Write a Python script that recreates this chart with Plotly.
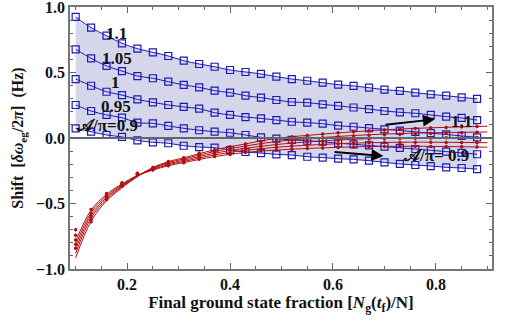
import plotly.graph_objects as go

# ---------------- data ----------------
x_pts = [0.10, 0.13, 0.16, 0.19, 0.22, 0.25, 0.28, 0.31, 0.34, 0.37, 0.40, 0.43, 0.46, 0.49,
         0.52, 0.55, 0.58, 0.61, 0.64, 0.67, 0.70, 0.73, 0.76, 0.79, 0.82, 0.85, 0.88]

amp_labels = ["0.9", "0.95", "1", "1.05", "1.1"]

blue_090 = [0.074, 0.048, 0.023, 0.008, -0.018, -0.033, -0.040, -0.059, -0.069,
            -0.074, -0.092, -0.107, -0.115, -0.125, -0.130, -0.143, -0.150, -0.158,
            -0.163, -0.173, -0.186, -0.198, -0.206, -0.214, -0.224, -0.229, -0.237]
blue_095 = [0.252, 0.206, 0.176, 0.155, 0.117, 0.112, 0.092, 0.074, 0.059,
            0.048, 0.040, 0.023, 0.005, -0.005, -0.015, -0.021, -0.028, -0.040,
            -0.048, -0.057, -0.066, -0.075, -0.084, -0.094, -0.104, -0.114, -0.124]
blue_100 = [0.450, 0.399, 0.353, 0.328, 0.295, 0.272, 0.252, 0.237, 0.224,
            0.193, 0.176, 0.160, 0.150, 0.137, 0.124, 0.117, 0.109, 0.094,
            0.086, 0.076, 0.066, 0.057, 0.047, 0.037, 0.027, 0.016, 0.005]
blue_105 = [0.677, 0.608, 0.550, 0.511, 0.473, 0.456, 0.430, 0.405, 0.387,
            0.361, 0.346, 0.323, 0.308, 0.290, 0.275, 0.270, 0.257, 0.245,
            0.233, 0.221, 0.206, 0.196, 0.189, 0.176, 0.163, 0.153, 0.137]
blue_110 = [0.924, 0.842, 0.781, 0.723, 0.682, 0.654, 0.626, 0.590, 0.565,
            0.544, 0.519, 0.504, 0.489, 0.468, 0.450, 0.437, 0.422, 0.407,
            0.398, 0.384, 0.369, 0.360, 0.346, 0.333, 0.323, 0.310, 0.299]

red_dots_090 = [-0.700, -0.546, -0.424, -0.342, -0.280, -0.245, -0.212, -0.188, -0.162,
                -0.142, -0.125, -0.110, -0.100, -0.092, -0.086, -0.080, -0.076, -0.072,
                -0.068, -0.066, -0.064, -0.063, -0.063, -0.064, -0.065, -0.067, -0.069]
red_dots_095 = [-0.743, -0.576, -0.436, -0.349, -0.278, -0.238, -0.204, -0.179, -0.152,
                -0.129, -0.110, -0.094, -0.081, -0.071, -0.062, -0.055, -0.050, -0.045,
                -0.040, -0.037, -0.035, -0.034, -0.033, -0.033, -0.034, -0.035, -0.036]
red_dots_100 = [-0.779, -0.600, -0.447, -0.355, -0.275, -0.233, -0.196, -0.170, -0.140,
                -0.116, -0.095, -0.078, -0.062, -0.050, -0.039, -0.030, -0.024, -0.018,
                -0.012, -0.008, -0.005, -0.003, -0.001, 0.000, 0.001, 0.002, 0.003]
red_dots_105 = [-0.811, -0.620, -0.458, -0.361, -0.272, -0.229, -0.188, -0.160, -0.128,
                -0.103, -0.080, -0.061, -0.043, -0.027, -0.015, -0.005, 0.002, 0.009,
                0.016, 0.021, 0.025, 0.029, 0.032, 0.035, 0.038, 0.041, 0.043]
red_dots_110 = [-0.842, -0.640, -0.470, -0.368, -0.270, -0.225, -0.180, -0.151, -0.116,
                -0.090, -0.066, -0.045, -0.025, -0.008, 0.007, 0.020, 0.031, 0.040,
                0.048, 0.055, 0.061, 0.067, 0.072, 0.077, 0.081, 0.085, 0.088]

line_x = [0.10, 0.13, 0.16, 0.19, 0.22, 0.25, 0.28, 0.31, 0.37, 0.43, 0.49, 0.55, 0.65, 0.75, 0.90]
red_line_090 = [-0.790, -0.550, -0.430, -0.350, -0.285, -0.245, -0.212, -0.188, -0.142, -0.110, -0.092, -0.080, -0.067, -0.063, -0.070]
red_line_095 = [-0.820, -0.570, -0.443, -0.357, -0.290, -0.240, -0.204, -0.179, -0.129, -0.094, -0.071, -0.055, -0.038, -0.032, -0.036]
red_line_100 = [-0.850, -0.590, -0.455, -0.365, -0.290, -0.233, -0.196, -0.170, -0.116, -0.078, -0.050, -0.030, -0.008, 0.000, 0.004]
red_line_105 = [-0.880, -0.610, -0.468, -0.372, -0.292, -0.229, -0.188, -0.160, -0.103, -0.061, -0.027, -0.005, 0.021, 0.036, 0.046]
red_line_110 = [-0.915, -0.635, -0.480, -0.380, -0.295, -0.225, -0.180, -0.151, -0.090, -0.045, -0.003, 0.020, 0.050, 0.072, 0.090]

x_ticks = [0.2, 0.4, 0.6, 0.8]
y_ticks = [-1.0, -0.5, 0.0, 0.5, 1.0]
y_tick_text = ["\u22121.0", "\u22120.5", "0.0", "0.5", "1.0"]

# ---------------- style ----------------
BLUE = "#1a1ab8"
RED = "#b30f0f"
FILL = "rgba(200,200,228,0.75)"
FONT = "Liberation Serif, Times New Roman, DejaVu Serif, serif"

blues = [blue_090, blue_095, blue_100, blue_105, blue_110]
red_dots = [red_dots_090, red_dots_095, red_dots_100, red_dots_105, red_dots_110]
red_lines = [red_line_090, red_line_095, red_line_100, red_line_105, red_line_110]

fig = go.Figure()

fig.add_trace(go.Scatter(x=x_pts, y=blue_090, mode="lines", line=dict(width=0, shape="spline"),
                         showlegend=False, hoverinfo="skip"))
fig.add_trace(go.Scatter(x=x_pts, y=blue_110, mode="lines", line=dict(width=0, shape="spline"),
                         fill="tonexty", fillcolor=FILL, showlegend=False, hoverinfo="skip"))

fig.add_hline(y=0, line=dict(color="#666666", width=2))

for lab, ys in zip(amp_labels, blues):
    fig.add_trace(go.Scatter(x=x_pts, y=ys, mode="lines", name=lab,
                             line=dict(color=BLUE, width=1, shape="spline"), showlegend=False))
    fig.add_trace(go.Scatter(x=x_pts, y=ys, mode="markers", name=lab, showlegend=False,
                             marker=dict(symbol="square-open", size=7, color=BLUE,
                                         line=dict(width=1.2, color=BLUE))))

for lab, ys in zip(amp_labels, red_lines):
    fig.add_trace(go.Scatter(x=line_x, y=ys, mode="lines", name=lab, showlegend=False,
                             line=dict(color=RED, width=1, shape="spline")))
for lab, ys in zip(amp_labels, red_dots):
    fig.add_trace(go.Scatter(x=x_pts, y=ys, mode="markers", name=lab, showlegend=False,
                             marker=dict(symbol="circle", size=3.5, color=RED),
                             error_y=dict(type="constant", value=0.012, width=0,
                                          color=RED, thickness=1)))

ann_font = dict(family=FONT, size=17, color="#111111")
labels_left = [("1.1", 0.179, 0.794), ("1.05", 0.181, 0.607), ("1", 0.177, 0.427),
               ("0.95", 0.178, 0.244), ("\U0001D49C/\u03c0=0.9", 0.16, 0.092)]
for t, xx, yy in labels_left:
    fig.add_annotation(x=xx, y=yy, text="<b>%s</b>" % t, showarrow=False, font=ann_font)

fig.add_annotation(x=0.85, y=0.126, text="<b>1.1</b>", showarrow=False, font=ann_font)
fig.add_annotation(x=0.80, y=-0.137, text="<b>\U0001D49C/\u03c0= 0.9</b>", showarrow=False, font=ann_font)
fig.add_annotation(x=0.798, y=0.143, ax=0.699, ay=0.099, xref="x", yref="y", axref="x", ayref="y",
                   text="", showarrow=True, arrowhead=2, arrowsize=1.2, arrowwidth=2, arrowcolor="black")
fig.add_annotation(x=0.698, y=-0.137, ax=0.60, ay=-0.105, xref="x", yref="y", axref="x", ayref="y",
                   text="", showarrow=True, arrowhead=2, arrowsize=1.2, arrowwidth=2, arrowcolor="black")

axis_common = dict(showgrid=False, zeroline=False, showline=True, linecolor="#777777", linewidth=1.5,
                   mirror="ticks", ticks="inside", ticklen=6, tickcolor="#666666", tickwidth=1,
                   automargin=False, ticklabeloverflow="allow",
                   tickfont=dict(family=FONT, size=16, color="#111111"))

fig.update_xaxes(range=[0.089, 0.909], tickvals=x_ticks, ticktext=["<b>%.1f</b>" % v for v in x_ticks],
                 minor=dict(ticks="inside", ticklen=3, dtick=0.05, tick0=0, tickcolor="#666666"),
                 title=dict(text="<b>Final ground state fraction [<i>N</i><sub>g</sub>(<i>t</i><sub>f</sub>)/N]</b>",
                            font=dict(family=FONT, size=17, color="#111111"), standoff=2),
                 **axis_common)
fig.update_yaxes(range=[-1.0, 1.0], tickvals=y_ticks, ticktext=["<b>%s</b>" % t for t in y_tick_text],
                 minor=dict(ticks="inside", ticklen=3, dtick=0.1, tick0=0, tickcolor="#666666"),
                 title=dict(text="<b>Shift  [<i>\u03b4\u03c9</i><sub>eg</sub>/2<i>\u03c0</i>]  (Hz)</b>",
                            font=dict(family=FONT, size=16, color="#111111"), standoff=8),
                 **axis_common)

fig.update_layout(width=507, height=320, margin=dict(l=70, r=15, t=7, b=51),
                  paper_bgcolor="white", plot_bgcolor="white", showlegend=False)

fig.write_html("out.html", config={"displayModeBar": False},
               post_script="document.body.style.margin='0';")
